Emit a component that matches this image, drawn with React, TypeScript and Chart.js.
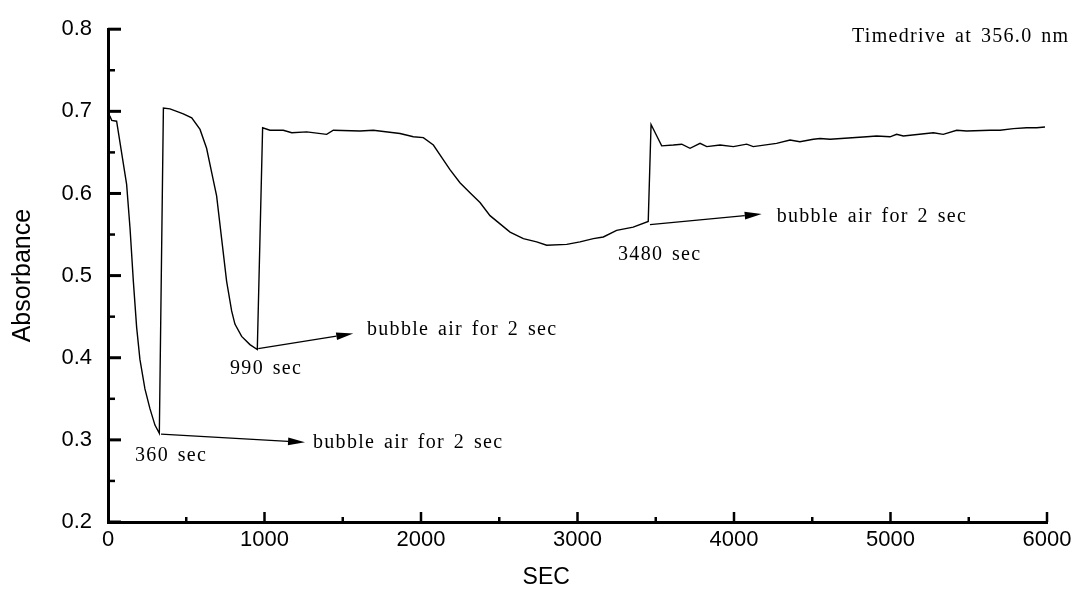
import React, { useEffect, useRef } from 'react';
import { Chart, registerables } from 'chart.js';

Chart.register(...registerables);

// Time (s)
const timeSec = [
  0, 10, 24, 55, 119, 141, 162, 183, 204, 236, 268, 300, 328,
  354, 396, 439, 481, 535, 588, 630, 663, 694, 726, 758, 790, 811, 854, 907, 954,
  988, 1035, 1120, 1174, 1270, 1397, 1440, 1610, 1695, 1866, 1951, 2015, 2079, 2143,
  2185, 2249, 2313, 2377, 2441, 2505, 2569, 2654, 2739, 2803, 2931, 3016, 3101, 3165,
  3250, 3356, 3452,
  3470, 3538, 3612, 3666, 3719, 3783, 3826, 3911, 3996, 4081, 4123, 4272, 4358, 4421,
  4507, 4550, 4614, 4848, 4911, 4997, 5039, 5082, 5274, 5337, 5423, 5487, 5636, 5700,
  5785, 5870, 5934, 5987,
];

// Absorbance at 356.0 nm
const absorbance = [
  0.700, 0.695, 0.689, 0.688, 0.611, 0.557, 0.493, 0.437, 0.398, 0.362, 0.338, 0.318, 0.308,
  0.704, 0.703, 0.700, 0.697, 0.692, 0.678, 0.655, 0.625, 0.597, 0.545, 0.493, 0.457, 0.441, 0.426, 0.416, 0.410,
  0.680, 0.677, 0.677, 0.674, 0.675, 0.672, 0.677, 0.676, 0.677, 0.673, 0.669, 0.668, 0.659, 0.641,
  0.629, 0.613, 0.601, 0.589, 0.573, 0.563, 0.553, 0.545, 0.541, 0.537, 0.538, 0.541, 0.545, 0.547,
  0.555, 0.559, 0.566,
  0.684, 0.658, 0.659, 0.660, 0.655, 0.661, 0.657, 0.659, 0.657, 0.660, 0.657, 0.661, 0.665, 0.663,
  0.666, 0.667, 0.666, 0.669, 0.670, 0.669, 0.672, 0.670, 0.674, 0.672, 0.677, 0.676, 0.677, 0.677,
  0.679, 0.680, 0.680, 0.681,
];

const xTickLabels = ['0', '1000', '2000', '3000', '4000', '5000', '6000'];
const yTickLabels = ['0.2', '0.3', '0.4', '0.5', '0.6', '0.7', '0.8'];

// Annotations (data coordinates)
const eventLabels = ['360 sec', '990 sec', '3480 sec'];
const eventLabelX = [173, 780, 3259];
const eventLabelY = [0.2741, 0.3797, 0.5191];
const arrowFromX = [339, 960, 3463];
const arrowFromY = [0.307, 0.411, 0.562];
const arrowToX = [1259, 1567, 4177];
const arrowToY = [0.297, 0.4295, 0.575];
const arrowTextX = [1310, 1655, 4273];
const arrowTextY = [0.290, 0.4275, 0.565];
const arrowText = 'bubble air for 2 sec';
const noteText = 'Timedrive at 356.0 nm';
const noteX = 4754;
const noteY = 0.784;

const SANS = "'Liberation Sans', Arial, Helvetica, sans-serif";
const SERIF = "'Liberation Serif', 'Times New Roman', Times, serif";

export default function App() {
  const ref = useRef<HTMLCanvasElement>(null);

  useEffect(() => {
    const canvas = ref.current;
    if (!canvas) return;
    const points = timeSec.map((t, i) => ({ x: t, y: absorbance[i] }));

    const decor = {
      id: 'decor',
      afterDraw(chart: any) {
        const { ctx, chartArea } = chart;
        const xs = chart.scales.x;
        const ys = chart.scales.y;
        ctx.save();
        ctx.strokeStyle = '#000';
        ctx.fillStyle = '#000';
        ctx.lineCap = 'butt';
        // inward ticks on y axis
        const yVals = yTickLabels.map(Number);
        yVals.forEach((v, i) => {
          const py = ys.getPixelForValue(v);
          ctx.lineWidth = 3;
          ctx.beginPath();
          ctx.moveTo(chartArea.left, py);
          ctx.lineTo(chartArea.left + 13, py);
          ctx.stroke();
          if (i < yVals.length - 1) {
            const pm = ys.getPixelForValue((v + yVals[i + 1]) / 2);
            ctx.lineWidth = 2.5;
            ctx.beginPath();
            ctx.moveTo(chartArea.left, pm);
            ctx.lineTo(chartArea.left + 7, pm);
            ctx.stroke();
          }
        });
        // inward ticks on x axis
        const xVals = xTickLabels.map(Number);
        xVals.forEach((v, i) => {
          const px = xs.getPixelForValue(v);
          if (i > 0) {
            ctx.lineWidth = 2.5;
            ctx.beginPath();
            ctx.moveTo(px, chartArea.bottom);
            ctx.lineTo(px, chartArea.bottom - 10);
            ctx.stroke();
          }
          if (i < xVals.length - 1) {
            const pm = xs.getPixelForValue((v + xVals[i + 1]) / 2);
            ctx.lineWidth = 2.5;
            ctx.beginPath();
            ctx.moveTo(pm, chartArea.bottom);
            ctx.lineTo(pm, chartArea.bottom - 5);
            ctx.stroke();
          }
        });

        // arrows
        ctx.lineWidth = 1.3;
        for (let i = 0; i < arrowFromX.length; i++) {
          const x1 = xs.getPixelForValue(arrowFromX[i]);
          const y1 = ys.getPixelForValue(arrowFromY[i]);
          const x2 = xs.getPixelForValue(arrowToX[i]);
          const y2 = ys.getPixelForValue(arrowToY[i]);
          const ang = Math.atan2(y2 - y1, x2 - x1);
          const hl = 17;
          const hw = 3.8;
          const bx = x2 - hl * Math.cos(ang);
          const by = y2 - hl * Math.sin(ang);
          ctx.beginPath();
          ctx.moveTo(x1, y1);
          ctx.lineTo(bx, by);
          ctx.stroke();
          ctx.beginPath();
          ctx.moveTo(x2, y2);
          ctx.lineTo(bx - hw * Math.sin(ang), by + hw * Math.cos(ang));
          ctx.lineTo(bx + hw * Math.sin(ang), by - hw * Math.cos(ang));
          ctx.closePath();
          ctx.fill();
        }

        // serif texts
        ctx.font = `20px ${SERIF}`;
        (ctx as any).letterSpacing = '1.3px';
        (ctx as any).wordSpacing = '2.5px';
        ctx.textAlign = 'left';
        ctx.textBaseline = 'alphabetic';
        for (let i = 0; i < arrowTextX.length; i++) {
          ctx.fillText(arrowText, xs.getPixelForValue(arrowTextX[i]), ys.getPixelForValue(arrowTextY[i]));
          ctx.fillText(eventLabels[i], xs.getPixelForValue(eventLabelX[i]), ys.getPixelForValue(eventLabelY[i]));
        }
        ctx.fillText(noteText, xs.getPixelForValue(noteX), ys.getPixelForValue(noteY));

        // x axis title
        (ctx as any).letterSpacing = '0px';
        (ctx as any).wordSpacing = '0px';
        ctx.font = `23px ${SANS}`;
        ctx.textAlign = 'center';
        ctx.textBaseline = 'middle';
        ctx.fillText('SEC', xs.getPixelForValue(2800), chartArea.bottom + 56);
        ctx.restore();
      },
    };

    const chart = new Chart(canvas, {
      type: 'line',
      data: {
        datasets: [
          {
            label: 'Absorbance',
            data: points,
            borderColor: '#000',
            borderWidth: 1.4,
            pointRadius: 0,
            tension: 0,
            fill: false,
          },
        ],
      },
      options: {
        responsive: false,
        animation: false,
        devicePixelRatio: 1,
        layout: { padding: { top: 20, right: 30, left: 0, bottom: 0 } },
        plugins: { legend: { display: false }, tooltip: { enabled: false } },
        scales: {
          x: {
            type: 'linear',
            min: 0,
            max: 6000,
            grid: { display: false, drawTicks: false },
            border: { display: true, width: 3, color: '#000' },
            ticks: {
              stepSize: 1000,
              color: '#000',
              padding: 5,
              maxRotation: 0,
              font: { family: SANS, size: 22 },
              callback: (_v: any, i: number) => xTickLabels[i],
            },
            afterFit: (s: any) => {
              s.height = 68;
            },
          },
          y: {
            type: 'linear',
            min: 0.2,
            max: 0.8,
            grid: { display: false, drawTicks: false },
            border: { display: true, width: 3, color: '#000' },
            ticks: {
              stepSize: 0.1,
              color: '#000',
              padding: 16,
              font: { family: SANS, size: 22 },
              callback: (_v: any, i: number) => yTickLabels[i],
            },
            title: {
              display: true,
              text: 'Absorbance',
              color: '#000',
              font: { family: SANS, size: 25 },
              padding: { top: 8, bottom: 0 },
            },
            afterFit: (s: any) => {
              s.width = 108;
            },
          },
        },
      },
      plugins: [decor],
    });
    return () => chart.destroy();
  }, []);

  return (
    <div style={{ position: 'fixed', left: 0, top: 0, width: 1077, height: 590, background: '#fff' }}>
      <canvas ref={ref} width={1077} height={590} style={{ display: 'block' }} />
    </div>
  );
}
